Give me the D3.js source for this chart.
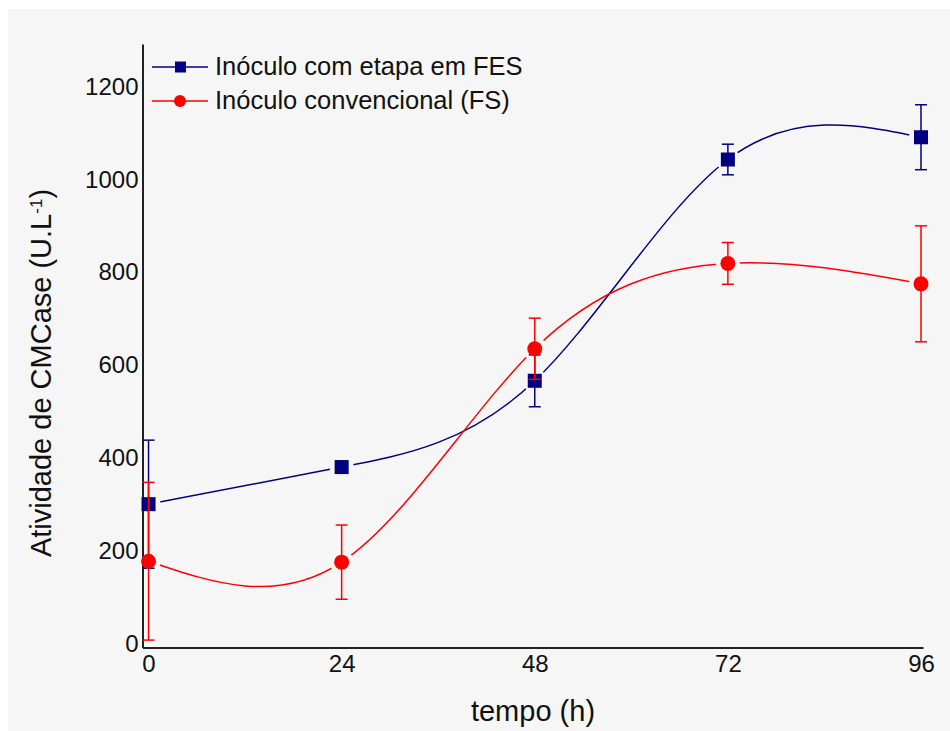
<!DOCTYPE html>
<html><head><meta charset="utf-8">
<script src="https://cdn.jsdelivr.net/npm/d3@7"></script>
<style>
html,body{margin:0;padding:0;background:#fff;}
svg{display:block;font-family:"Liberation Sans",Arial,sans-serif;}
</style></head>
<body><svg id="c" width="950" height="731"></svg>
<script>
const times = [0, 24, 48, 72, 96];
const xTicks = [0, 24, 48, 72, 96];
const yTicks = [0, 200, 400, 600, 800, 1000, 1200];
const fesValues = [300, 380, 566, 1043, 1091];
const fesErrors = [138, 8, 56, 33, 70];
const fsValues = [177, 175, 635, 819, 775];
const fsErrors = [170, 80, 66, 45, 125];
const seriesNames = ["Inóculo com etapa em FES", "Inóculo convencional (FS)"];

const svg = d3.select("#c");
svg.append("rect").attr("x", 8).attr("y", 9).attr("width", 942).attr("height", 722).attr("fill", "#f6f6f6");

const x = d3.scaleLinear().domain([-0.75, 96.25]).range([142.5, 923]);
const y = d3.scaleLinear().domain([-9, 1292]).range([647.5, 44]);

// axes
const xAxis = svg.append("g").attr("transform", `translate(0,${y(-9)})`)
  .call(d3.axisBottom(x).tickValues(xTicks).tickFormat(d3.format("d")).tickSize(0).tickPadding(7));
const yAxis = svg.append("g").attr("transform", `translate(${x(-0.75)},0)`)
  .call(d3.axisLeft(y).tickValues(yTicks).tickFormat(d3.format("d")).tickSize(0).tickPadding(4));
[xAxis, yAxis].forEach(a => {
  a.select(".domain").attr("stroke", "#222").attr("stroke-width", 2);
  a.selectAll("text").attr("font-size", 24).attr("fill", "#111").attr("font-family", "Liberation Sans, Arial, sans-serif");
});

// axis titles
svg.append("text").attr("x", 533).attr("y", 721).attr("text-anchor", "middle")
  .attr("font-size", 29).attr("fill", "#111").text("tempo (h)");
const yt = svg.append("text").attr("transform", "translate(51,373) rotate(-90)")
  .attr("text-anchor", "middle").attr("font-size", 29).attr("fill", "#111");
yt.append("tspan").text("Atividade de CMCase (U.L");
yt.append("tspan").attr("baseline-shift", "super").attr("font-size", 17).text("-1");
yt.append("tspan").text(")");

const defs = svg.append("defs");
const series = [
  {name: seriesNames[0], vals: fesValues, errs: fesErrors, color: "#000080", shape: "square"},
  {name: seriesNames[1], vals: fsValues, errs: fsErrors, color: "#ff0000", shape: "circle"}
];

const line = d3.line().x(d => x(d[0])).y(d => y(d[1])).curve(d3.curveNatural);

series.forEach((s, i) => {
  const pts = times.map((t, j) => [t, s.vals[j], s.errs[j]]);
  const mask = defs.append("mask").attr("id", "m" + i).attr("maskUnits", "userSpaceOnUse")
    .attr("x", 0).attr("y", 0).attr("width", 950).attr("height", 731);
  mask.append("rect").attr("width", 950).attr("height", 731).attr("fill", "#fff");
  mask.selectAll("circle").data(pts).join("circle")
    .attr("cx", d => x(d[0])).attr("cy", d => y(d[1])).attr("r", 12).attr("fill", "#000");
  const g = svg.append("g");
  g.append("path").datum(pts).attr("d", line).attr("fill", "none")
    .attr("stroke", s.color).attr("stroke-width", 1.5).attr("mask", `url(#m${i})`);
  // error bars
  const eb = g.selectAll(".eb").data(pts).join("g");
  eb.append("line").attr("x1", d => x(d[0])).attr("x2", d => x(d[0]))
    .attr("y1", d => y(d[1] - d[2])).attr("y2", d => y(d[1] + d[2]))
    .attr("stroke", s.color).attr("stroke-width", 1.5);
  [-1, 1].forEach(sg => {
    eb.append("line").attr("x1", d => x(d[0]) - 6).attr("x2", d => x(d[0]) + 6)
      .attr("y1", d => y(d[1] + sg * d[2])).attr("y2", d => y(d[1] + sg * d[2]))
      .attr("stroke", s.color).attr("stroke-width", 1.5);
  });
  // markers
  if (s.shape === "square") {
    g.selectAll(".mk").data(pts).join("rect")
      .attr("x", d => x(d[0]) - 7).attr("y", d => y(d[1]) - 7)
      .attr("width", 14).attr("height", 14).attr("fill", s.color);
  } else {
    g.selectAll(".mk").data(pts).join("circle")
      .attr("cx", d => x(d[0])).attr("cy", d => y(d[1])).attr("r", 7.5).attr("fill", s.color);
  }
  // legend
  const ly = 67 + i * 34;
  svg.append("line").attr("x1", 152).attr("x2", 208).attr("y1", ly).attr("y2", ly)
    .attr("stroke", s.color).attr("stroke-width", 1.5);
  if (s.shape === "square") {
    svg.append("rect").attr("x", 175).attr("y", ly - 5.5).attr("width", 11).attr("height", 11).attr("fill", s.color);
  } else {
    svg.append("circle").attr("cx", 180).attr("cy", ly).attr("r", 6).attr("fill", s.color);
  }
  svg.append("text").attr("x", 215).attr("y", ly + 8).attr("font-size", 25.5).attr("fill", "#111").text(s.name);
});
</script></body></html>
